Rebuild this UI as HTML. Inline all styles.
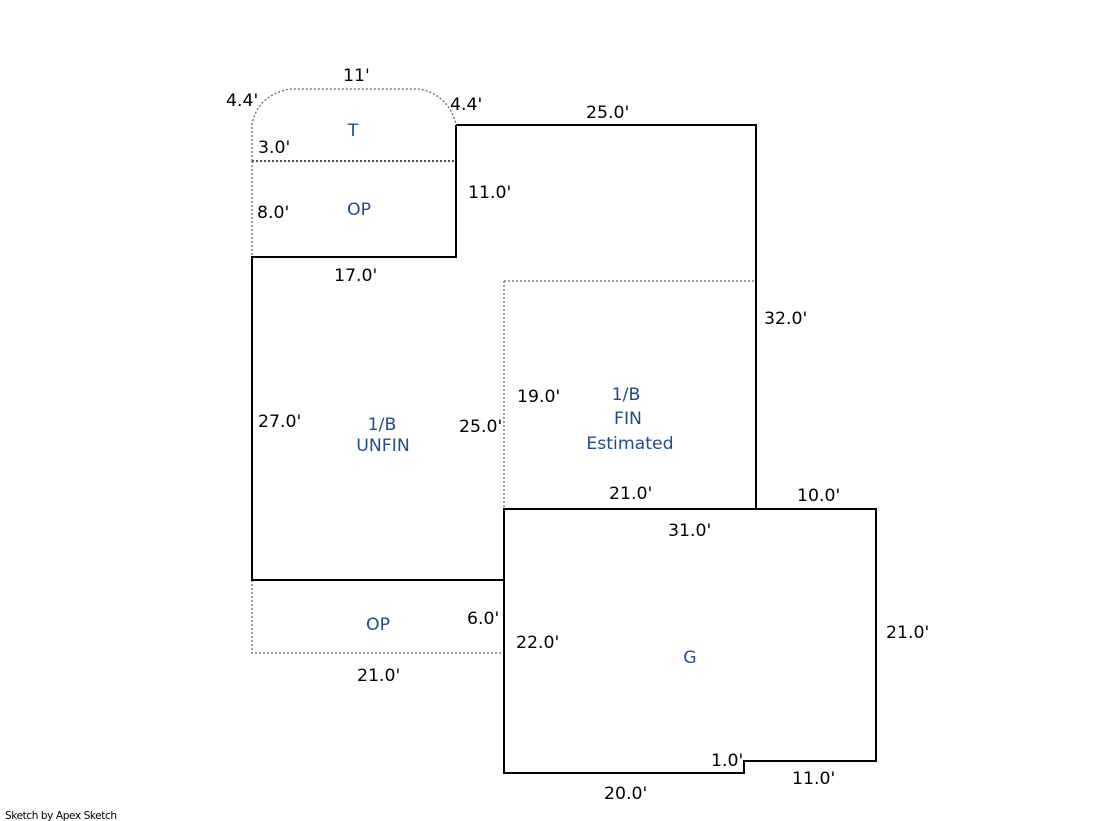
<!DOCTYPE html>
<html><head><meta charset="utf-8"><style>
html,body{margin:0;padding:0;background:#fff;}
svg{display:block;}
text{font-family:"DejaVu Sans","Liberation Sans",sans-serif;font-size:17.3px;fill:#000;}
.b{fill:#1f4e8c;text-anchor:middle;}
</style></head><body>
<svg width="1119" height="821" viewBox="0 0 1119 821" xmlns="http://www.w3.org/2000/svg">
<g fill="none" stroke="#666" stroke-width="1.3" stroke-dasharray="2,2">
<path d="M252,161 L252,124 Q258,95 290,89 L420,89 Q448,95 456,124"/>
<path d="M252,161 L252,257"/>
<path d="M504,281 L756,281"/>
<path d="M504,281 L504,509"/>
<path d="M252,580 L252,653 L504,653"/>
</g>
<path d="M252,161 L456,161" stroke="#555" stroke-width="2" stroke-dasharray="2,2" fill="none"/>
<g fill="none" stroke="#000" stroke-width="2">
<path d="M456,125 L756,125 L756,509"/>
<path d="M456,125 L456,257 L252,257 L252,580 L504,580"/>
<path d="M504,509 L876,509 L876,761 L744,761 L744,773 L504,773 Z"/>
</g>
<text x="343" y="81">11'</text>
<text x="226" y="106">4.4'</text>
<text x="450" y="110">4.4'</text>
<text x="586" y="118">25.0'</text>
<text class="b" x="353" y="136">T</text>
<text x="258" y="153">3.0'</text>
<text x="468" y="198">11.0'</text>
<text x="257" y="218">8.0'</text>
<text class="b" x="359" y="215">OP</text>
<text x="334" y="281">17.0'</text>
<text x="764" y="324">32.0'</text>
<text class="b" x="626" y="400">1/B</text>
<text x="517" y="402">19.0'</text>
<text class="b" x="628" y="424">FIN</text>
<text class="b" x="630" y="449">Estimated</text>
<text x="258" y="427">27.0'</text>
<text class="b" x="382" y="430">1/B</text>
<text class="b" x="383" y="451">UNFIN</text>
<text x="459" y="432">25.0'</text>
<text x="609" y="499">21.0'</text>
<text x="797" y="501">10.0'</text>
<text x="668" y="536">31.0'</text>
<text x="467" y="624">6.0'</text>
<text class="b" x="378" y="630">OP</text>
<text x="886" y="638">21.0'</text>
<text x="516" y="648">22.0'</text>
<text class="b" x="690" y="663">G</text>
<text x="357" y="681">21.0'</text>
<text x="711" y="766">1.0'</text>
<text x="792" y="784">11.0'</text>
<text x="604" y="799">20.0'</text>
<text x="5" y="819" style="font-size:10.5px;letter-spacing:-0.4px">Sketch by Apex Sketch</text>
</svg>
</body></html>
